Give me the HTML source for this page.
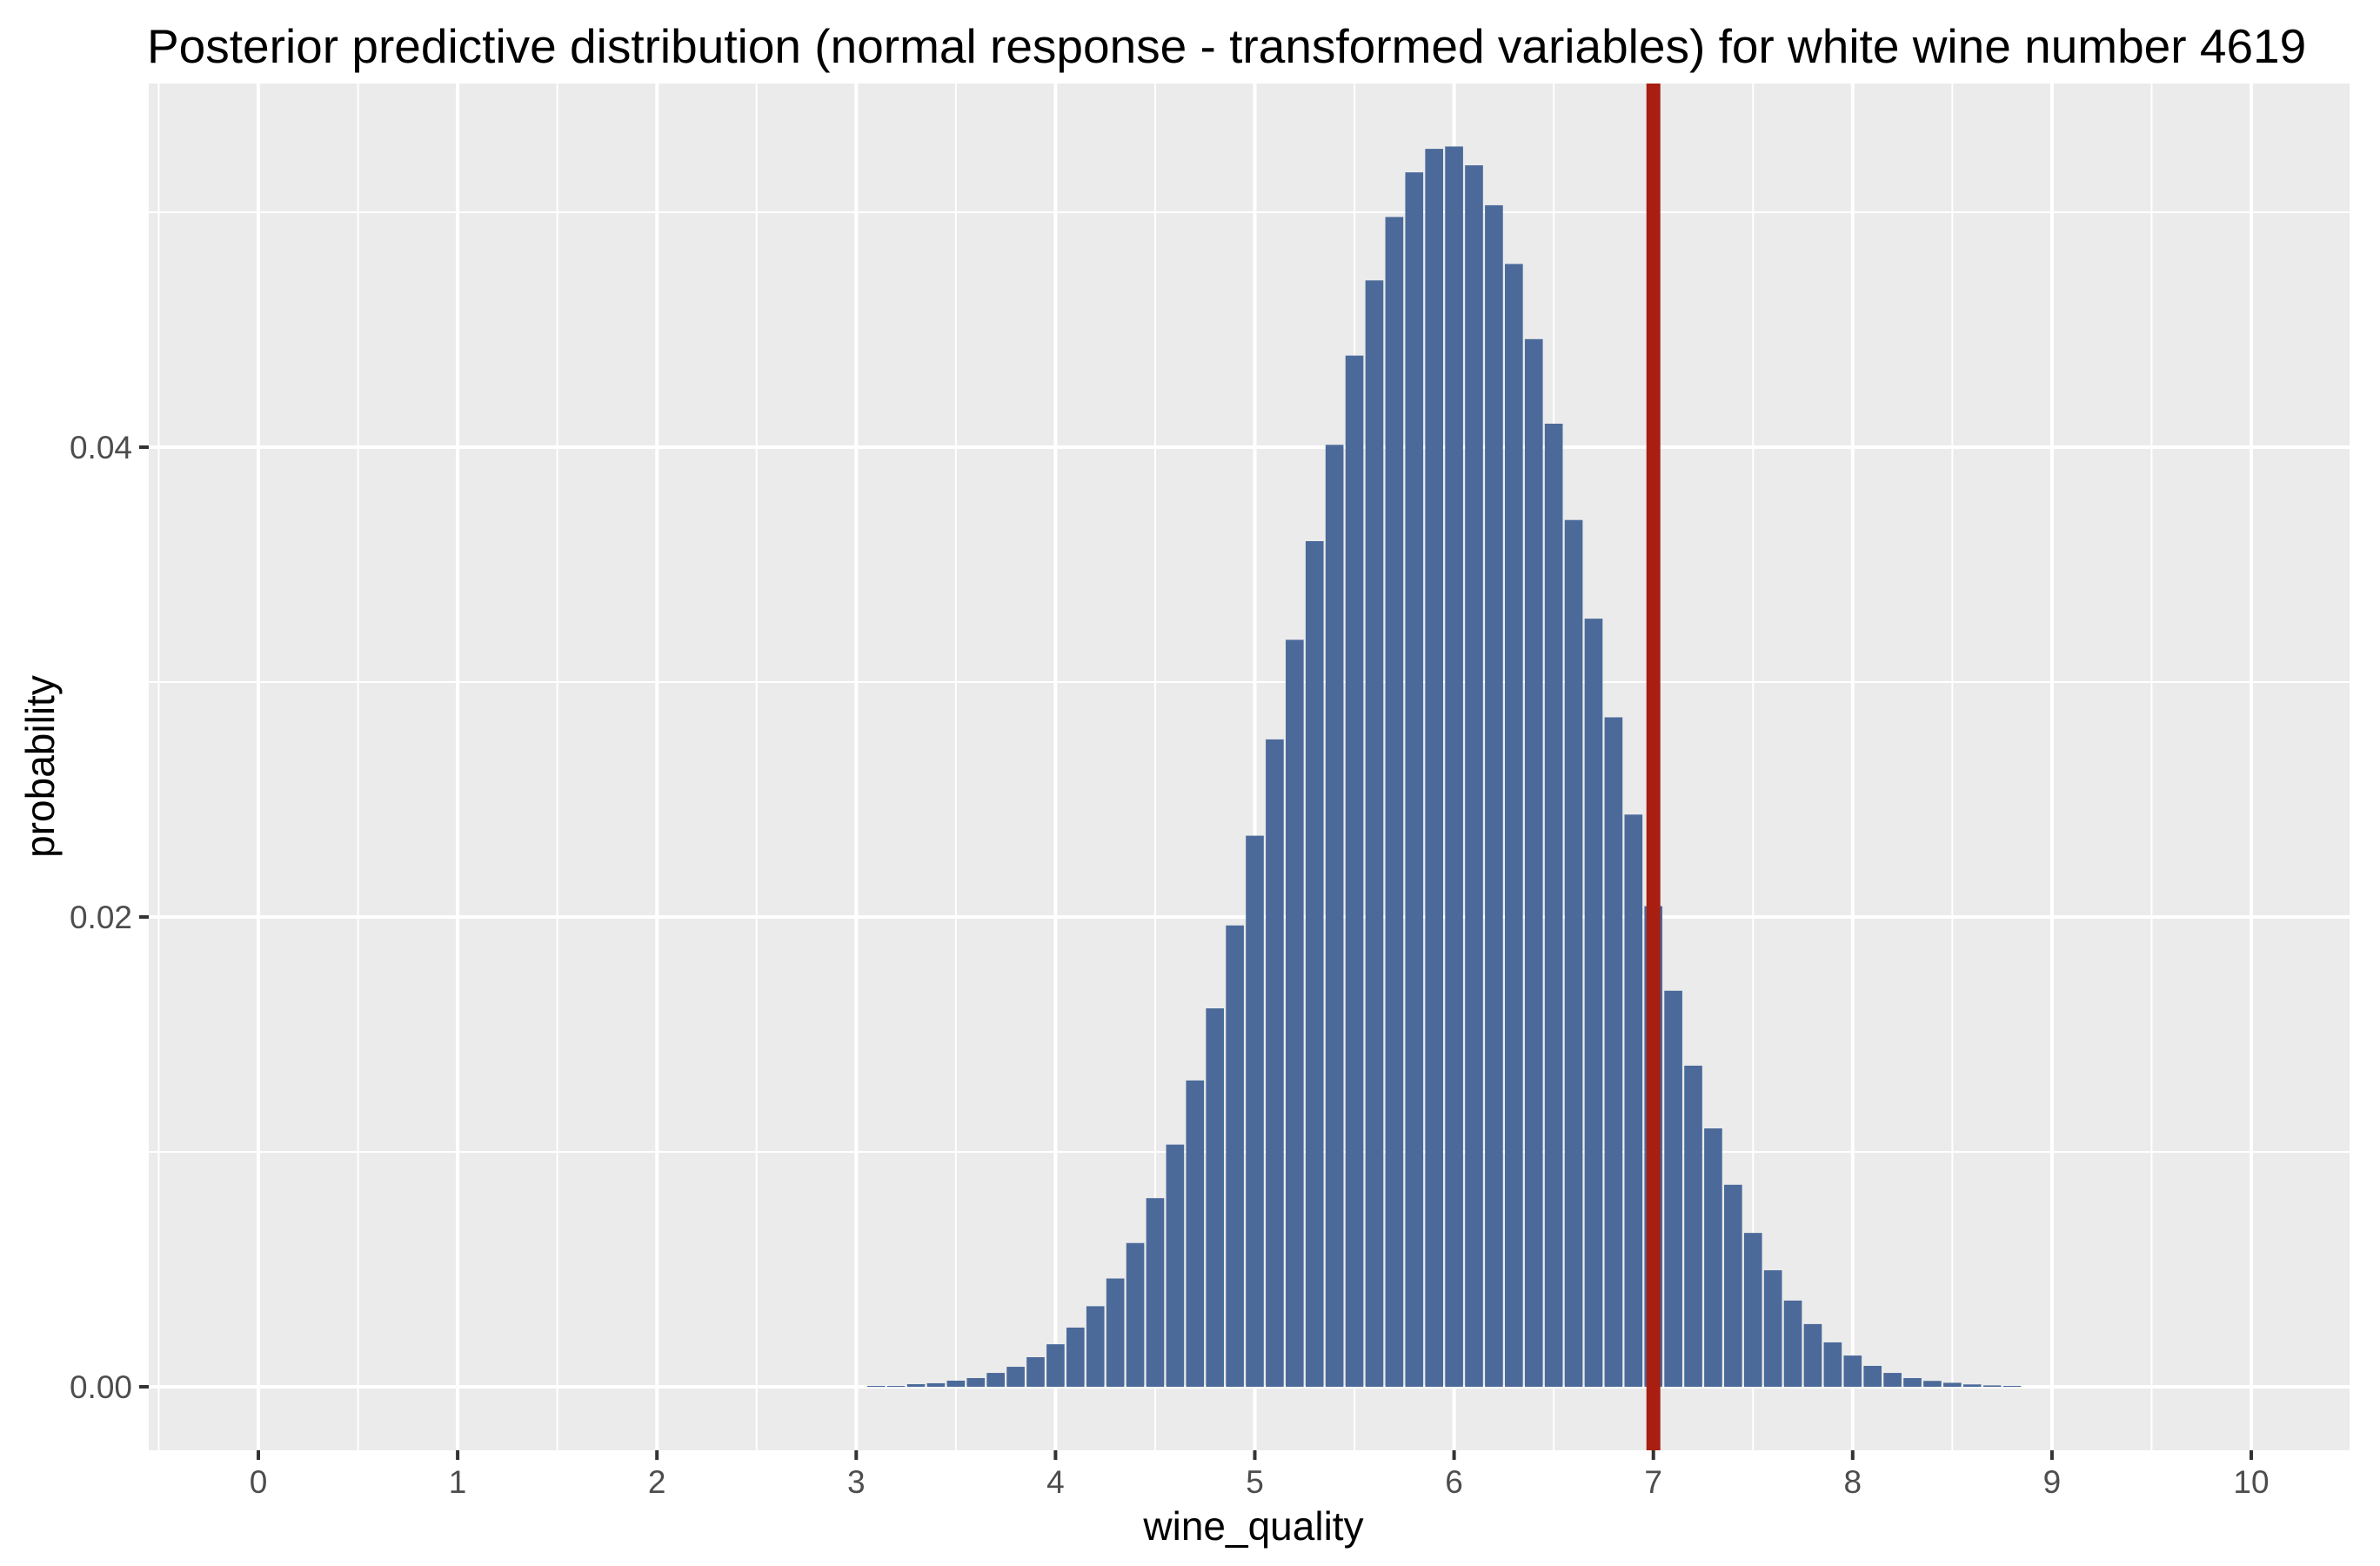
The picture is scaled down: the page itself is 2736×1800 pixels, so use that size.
<!DOCTYPE html>
<html><head><meta charset="utf-8"><style>
html,body{margin:0;padding:0;background:#fff;}
svg{display:block;font-family:"Liberation Sans",Arial,sans-serif;}
</style></head><body>
<svg id="chart" width="2736" height="1800" viewBox="0 0 2736 1800" xmlns="http://www.w3.org/2000/svg">
<rect width="2736" height="1800" fill="#fff"/>
<text x="169" y="72" font-size="55" fill="#000">Posterior predictive distribution (normal response - transformed variables) for white wine number 4619</text>
<rect x="171" y="96" width="2530" height="1571" fill="#EBEBEB"/>
<g id="grid"></g>
<g id="bars"></g>
<g id="refline"></g>
<g id="axes"></g>
<text x="1441" y="1770" font-size="46" text-anchor="middle" fill="#000">wine_quality</text>
<text transform="translate(62,881) rotate(-90)" font-size="46" text-anchor="middle" fill="#000">probability</text>
</svg>
<script>
const xCenters = [3.1,3.2,3.3,3.4,3.5,3.6,3.7,3.8,3.9,4.0,4.1,4.2,4.3,4.4,4.5,4.6,4.7,4.8,4.9,5.0,5.1,5.2,5.3,5.4,5.5,5.6,5.7,5.8,5.9,6.0,6.1,6.2,6.3,6.4,6.5,6.6,6.7,6.8,6.9,7.0,7.1,7.2,7.3,7.4,7.5,7.6,7.7,7.8,7.9,8.0,8.1,8.2,8.3,8.4,8.5,8.6,8.7,8.8];
const probs = [0.00004,0.00004,0.00011,0.00015,0.00026,0.00037,0.00059,0.00085,0.00126,0.00181,0.00252,0.00343,0.00461,0.00612,0.00803,0.01031,0.01304,0.01611,0.01964,0.02346,0.02756,0.0318,0.0360,0.0401,0.0439,0.0471,0.0498,0.0517,0.0527,0.0528,0.0520,0.0503,0.0478,0.0446,0.0410,0.0369,0.0327,0.0285,0.02436,0.02046,0.01686,0.01367,0.0110,0.0086,0.00655,0.00496,0.00367,0.00267,0.00189,0.00133,0.00089,0.00059,0.00037,0.00025,0.00017,0.0001,0.00006,0.00004];
const xTicks = [0,1,2,3,4,5,6,7,8,9,10];
const yTicks = [0,0.02,0.04];
const yTickLabels = ["0.00","0.02","0.04"];
const yMinor = [0.01,0.03,0.05];
const refValue = 7;

const NS = "http://www.w3.org/2000/svg";
const PL = 171, PR = 2701, PT = 96, PB = 1667;
function xs(v){ return 297 + v*229.1; }
function ys(v){ return 1594 - v*27000; }
function mk(tag, attrs, parent){
  const e = document.createElementNS(NS, tag);
  for (const k in attrs) e.setAttribute(k, attrs[k]);
  parent.appendChild(e); return e;
}
const grid = document.getElementById('grid');
const bars = document.getElementById('bars');
const axes = document.getElementById('axes');
const ref = document.getElementById('refline');

for (const v of yMinor){
  const l = mk('line',{x1:PL,x2:PR,y1:ys(v),y2:ys(v),stroke:'#fff','stroke-width':2},grid);
  
  
}
for (let i=0;i<xTicks.length;i++){
  const mv = xTicks[i]-0.5;
  const l = mk('line',{x1:xs(mv),x2:xs(mv),y1:PT,y2:PB,stroke:'#fff','stroke-width':2},grid);
  
  
}
{
  const mv = xTicks[xTicks.length-1]+0.5;
  const l = mk('line',{x1:xs(mv),x2:xs(mv),y1:PT,y2:PB,stroke:'#fff','stroke-width':2},grid);
  
  
}
for (let i=0;i<yTicks.length;i++){
  const y = ys(yTicks[i]);
  const l = mk('line',{x1:PL,x2:PR,y1:y,y2:y,stroke:'#fff','stroke-width':4},grid);
  
  
  const t = mk('line',{x1:160,x2:PL,y1:y,y2:y,stroke:'#333','stroke-width':4},axes);
  
  
  const tx = mk('text',{x:152,y:y+13,'font-size':37,'text-anchor':'end',fill:'#4D4D4D'},axes);
  tx.textContent = yTickLabels[i];
  
  
}
for (let i=0;i<xTicks.length;i++){
  const x = xs(xTicks[i]);
  const l = mk('line',{x1:x,x2:x,y1:PT,y2:PB,stroke:'#fff','stroke-width':4},grid);
  
  
  const t = mk('line',{x1:x,x2:x,y1:PB,y2:PB+11,stroke:'#333','stroke-width':4},axes);
  
  
  const tx = mk('text',{x:x,y:1716,'font-size':37,'text-anchor':'middle',fill:'#4D4D4D'},axes);
  tx.textContent = String(xTicks[i]);
  
  
}
const bw = 0.09*229.1;
for (let i=0;i<xCenters.length;i++){
  const x = xs(xCenters[i]) - bw/2;
  const y = ys(probs[i]);
  const h = Math.max(1, ys(0)-y);
  const r = mk('rect',{x:x,y:ys(0)-h,width:bw,height:h,fill:'#4B6A9A'},bars);
  
  
}
const rl = mk('rect',{x:xs(refValue)-8,y:PT,width:16,height:PB-PT,fill:'#A81E10'},ref);


</script>
</body></html>
